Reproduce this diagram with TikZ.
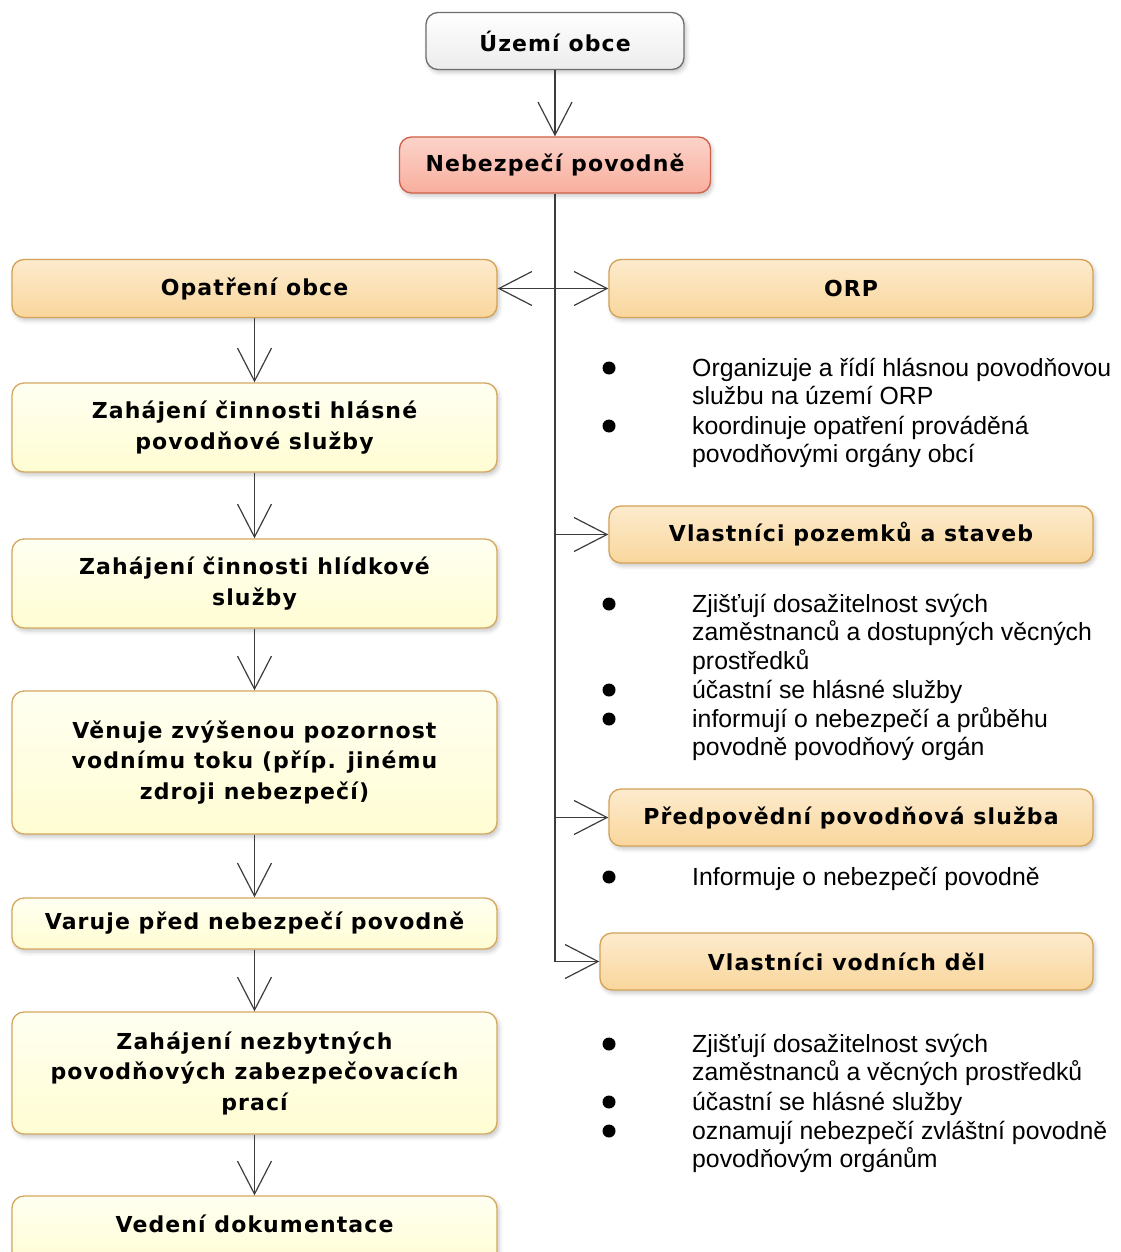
\documentclass[tikz,border=0pt]{standalone}
\usepackage{fontspec}
\setmainfont{Liberation Sans}
\newfontfamily\boxfont[LetterSpace=5]{DejaVu Sans}
\usetikzlibrary{arrows.meta,shadows.blur}

\definecolor{ortop}{HTML}{FDEBCD}
\definecolor{orbot}{HTML}{F9D69C}
\definecolor{orbd}{HTML}{D3A256}
\definecolor{yetop}{HTML}{FFFFF2}
\definecolor{yebot}{HTML}{FFFDD2}
\definecolor{yebd}{HTML}{D4A860}
\definecolor{retop}{HTML}{FCD3CA}
\definecolor{rebot}{HTML}{F8AE9D}
\definecolor{rebd}{HTML}{CF5F48}
\definecolor{whtop}{HTML}{FFFFFF}
\definecolor{whbot}{HTML}{ECECEC}
\definecolor{whbd}{HTML}{6E6E6E}
\definecolor{linec}{HTML}{3C3C3C}

\begin{document}
\begin{tikzpicture}[x=1pt,y=-1pt,
  box/.style={rounded corners=12pt, line width=1.3pt, inner sep=0pt, align=center,
    font=\boxfont\bfseries\fontsize{22}{30.5}\selectfont,
    blur shadow={shadow xshift=2pt,shadow yshift=-3pt,shadow blur radius=4pt,shadow opacity=22}},
  whitebox/.style={box, draw=whbd, top color=whtop, bottom color=whbot},
  redbox/.style={box, draw=rebd, top color=retop, middle color=rebot, bottom color=rebot},
  orangebox/.style={box, draw=orbd, top color=ortop, middle color=orbot, bottom color=orbot,
    minimum width=484pt, minimum height=58pt},
  yellowbox/.style={box, draw=yebd, top color=yetop, middle color=yebot, bottom color=yebot,
    minimum width=485pt},
  link/.style={draw=linec, line width=1.2pt},
  arr/.style={link, -{Straight Barb[length=33pt,width=34pt,line width=1.2pt]}},
  dot/.style={circle, fill=black, inner sep=0pt, minimum size=13pt},
  % notes are placed by the baseline of their last line
  note/.style={anchor=base west, align=left, inner sep=0pt,
    font=\fontsize{24.8}{28.8}\selectfont}
]
\useasboundingbox (0,0) rectangle (1120,1252);

% top of the chart
\node[whitebox, minimum width=258pt, minimum height=57pt] (uzemi) at (555,41) {Území obce};
\node[redbox, minimum width=311pt, minimum height=56pt] (neb) at (555,165) {Nebezpečí povodně};

% municipality column
\node[orangebox, minimum width=485pt] (opat) at (254.5,288.5) {Opatření obce};
\node[yellowbox, minimum height=89pt] (z1) at (254.5,427.5) {Zahájení činnosti hlásné\\povodňové služby};
\node[yellowbox, minimum height=89pt] (z2) at (254.5,583.5) {Zahájení činnosti hlídkové\\služby};
\node[yellowbox, minimum height=143pt] (z3) at (254.5,762.5) {Věnuje zvýšenou pozornost\\vodnímu toku (příp. jinému\\zdroji nebezpečí)};
\node[yellowbox, minimum height=51pt] (z4) at (254.5,923.5) {Varuje před nebezpečí povodně};
\node[yellowbox, minimum height=122pt] (z5) at (254.5,1073) {Zahájení nezbytných\\povodňových zabezpečovacích\\prací};
\node[yellowbox, minimum height=70pt,
  label={[font=\boxfont\bfseries\fontsize{22}{30.5}\selectfont, yshift=7pt]center:Vedení dokumentace}]
  (doc) at (254.5,1231) {};

% other bodies
\node[orangebox] (orp) at (851,288.5) {ORP};
\node[orangebox, minimum height=57pt] (vpoz) at (851,534.5) {Vlastníci pozemků a staveb};
\node[orangebox, minimum height=57pt] (pps) at (851,817.5) {Předpovědní povodňová služba};
\node[orangebox, minimum width=493pt, minimum height=57pt] (vvd) at (846.5,961.5) {Vlastníci vodních děl};

% connectors
\coordinate (j0) at (neb.south |- opat.east);
\coordinate (j1) at (neb.south |- vpoz.west);
\coordinate (j2) at (neb.south |- pps.west);
\coordinate (j3) at (neb.south |- vvd.west);

\draw[arr] (uzemi) -- (neb);
\draw[link] (neb.south) -- (j3);
\draw[arr] (j0) -- (opat.east);
\draw[arr] (j0) -- (orp.west);
\draw[arr] (j1) -- (vpoz.west);
\draw[arr] (j2) -- (pps.west);
\draw[arr] (j3) -- (vvd.west);

\draw[arr] (opat) -- (z1);
\draw[arr] (z1) -- (z2);
\draw[arr] (z2) -- (z3);
\draw[arr] (z3) -- (z4);
\draw[arr] (z4) -- (z5);
\draw[arr] (z5) -- (doc);

% bullet notes
\node[dot] (b1) at (609,368) {};
\node[note] (t1) at (692,404.8) {Organizuje a řídí hlásnou povodňovou\\službu na území ORP};
\node[dot] (b2) at (609,426) {};
\node[note] (t2) at (692,462.8) {koordinuje opatření prováděná\\povodňovými orgány obcí};

\node[dot] (b3) at (609,604) {};
\node[note] (t3) at (692,669.6) {Zjišťují dosažitelnost svých\\zaměstnanců a dostupných věcných\\prostředků};
\node[dot] (b4) at (609,690) {};
\node[note] (t4) at (692,698) {účastní se hlásné služby};
\node[dot] (b5) at (609,719) {};
\node[note] (t5) at (692,755.8) {informují o nebezpečí a průběhu\\povodně povodňový orgán};

\node[dot] (b6) at (609,877) {};
\node[note] (t6) at (692,885) {Informuje o nebezpečí povodně};

\node[dot] (b7) at (609,1044) {};
\node[note] (t7) at (692,1080.8) {Zjišťují dosažitelnost svých\\zaměstnanců a věcných prostředků};
\node[dot] (b8) at (609,1102) {};
\node[note] (t8) at (692,1110) {účastní se hlásné služby};
\node[dot] (b9) at (609,1131) {};
\node[note] (t9) at (692,1167.8) {oznamují nebezpečí zvláštní povodně\\povodňovým orgánům};
\end{tikzpicture}
\end{document}
